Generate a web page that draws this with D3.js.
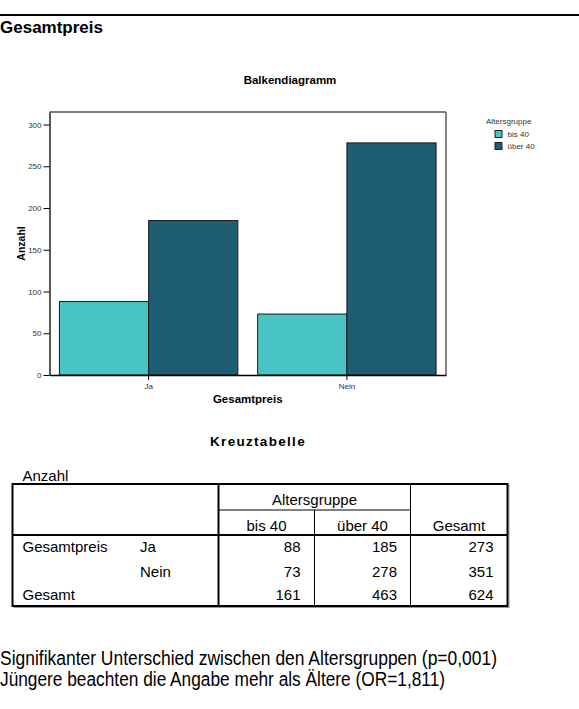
<!DOCTYPE html>
<html>
<head>
<meta charset="utf-8">
<script src="https://cdn.jsdelivr.net/npm/d3@7"></script>
<style>
  body { margin: 0; background: #fff; }
  svg { display: block; font-family: "Liberation Sans", Arial, sans-serif; }
  .axis path, .axis line { stroke: #000; }
  .axis text { fill: #333; font-size: 8px; }
</style>
</head>
<body>
<svg id="chart" width="579" height="709"></svg>
<script>
let categories = ["Ja", "Nein"];
let groups = ["bis 40", "über 40"];
let bis40 = [88, 73];
let ueber40 = [185, 278];
let rowTotals = [273, 351];
let colTotals = [161, 463, 624];
let yTicks = [0, 50, 100, 150, 200, 250, 300];
let colors = ["#48c3c6", "#1d5e74"];
let notes = [
  "Signifikanter Unterschied zwischen den Altersgruppen (p=0,001)",
  "Jüngere beachten die Angabe mehr als Ältere (OR=1,811)"
];
let noteWidths = [497, 445];

var svg = d3.select("#chart");

// heading rule + section title
svg.append("rect").attr("x", 0).attr("y", 14).attr("width", 579).attr("height", 2).attr("fill", "#000");
svg.append("text").attr("x", 0).attr("y", 33)
  .style("font-size", "17px").style("font-weight", "bold").text("Gesamtpreis");

// ---- bar chart ----
let margin = { top: 112, left: 49.5, right: 446, bottom: 375 };

let x0 = d3.scaleBand()
  .domain(categories)
  .range([margin.left, margin.right])
  .paddingInner(0.1)
  .paddingOuter(0.05);

let x1 = d3.scaleBand()
  .domain(groups)
  .range([0, x0.bandwidth()]);

let y = d3.scaleLinear()
  .domain([0, 315])
  .range([margin.bottom, margin.top]);

svg.append("text").attr("x", 290).attr("y", 84).attr("text-anchor", "middle")
  .style("font-size", "11.5px").style("font-weight", "bold").text("Balkendiagramm");

// frame (top + right)
svg.append("line").attr("x1", margin.left).attr("x2", margin.right)
  .attr("y1", margin.top).attr("y2", margin.top).attr("stroke", "#000").attr("stroke-width", 1.2);
svg.append("line").attr("x1", margin.right).attr("x2", margin.right)
  .attr("y1", margin.top).attr("y2", margin.bottom).attr("stroke", "#777").attr("stroke-width", 1.8);

let rows = categories.map(function(c, i) {
  return { cat: c, values: [bis40[i], ueber40[i]] };
});

let grp = svg.selectAll("g.cat")
  .data(rows)
  .enter().append("g")
  .attr("class", "cat")
  .attr("transform", function(d) { return "translate(" + x0(d.cat) + ",0)"; });

grp.selectAll("rect")
  .data(function(d) { return d.values.map(function(v, j) { return { g: groups[j], v: v, j: j }; }); })
  .enter().append("rect")
  .attr("x", function(d) { return x1(d.g); })
  .attr("y", function(d) { return y(d.v); })
  .attr("width", x1.bandwidth())
  .attr("height", function(d) { return y(0) - y(d.v); })
  .attr("fill", function(d) { return colors[d.j]; })
  .attr("stroke", "#1a1a1a")
  .attr("stroke-width", 1);

let yAxis = d3.axisLeft(y).tickValues(yTicks).tickSize(6).tickPadding(2).tickSizeOuter(0);
svg.append("g").attr("class", "axis")
  .attr("transform", "translate(" + margin.left + ",0)")
  .call(yAxis)
  .select(".domain").attr("stroke-width", 1.3);

let xAxis = d3.axisBottom(x0).tickSize(5).tickPadding(3).tickSizeOuter(0);
svg.append("g").attr("class", "axis")
  .attr("transform", "translate(0," + margin.bottom + ")")
  .call(xAxis)
  .select(".domain").attr("stroke-width", 1.3);

svg.append("text")
  .attr("transform", "translate(25," + (margin.top + margin.bottom) / 2 + ") rotate(-90)")
  .attr("text-anchor", "middle")
  .style("font-size", "10.5px").style("font-weight", "bold").text("Anzahl");

svg.append("text").attr("x", (margin.left + margin.right) / 2).attr("y", 403)
  .attr("text-anchor", "middle")
  .style("font-size", "11.5px").style("font-weight", "bold").text("Gesamtpreis");

// legend
let legend = svg.append("g").attr("transform", "translate(486,124)");
legend.append("text").style("font-size", "8px").style("fill", "#333").text("Altersgruppe");
let li = legend.selectAll("g.li").data(groups).enter().append("g")
  .attr("transform", function(d, i) { return "translate(9," + (6.5 + i * 12) + ")"; });
li.append("rect").attr("width", 7).attr("height", 7)
  .attr("fill", function(d, i) { return colors[i]; }).attr("stroke", "#222");
li.append("text").attr("x", 12.5).attr("y", 6.5).style("font-size", "8px").style("fill", "#333")
  .text(function(d) { return d; });

// ---- Kreuztabelle ----
svg.append("text").attr("x", 258).attr("y", 446).attr("text-anchor", "middle")
  .style("font-size", "13.5px").style("font-weight", "bold").style("letter-spacing", "1.3px")
  .text("Kreuztabelle");

let tfont = "15px";
let tb = { left: 12.5, right: 507.5, top: 484, bottom: 606, split: 218.5, c1: 314.5, c2: 410.5, h1: 510, h2: 535 };

svg.append("text").attr("x", 22.5).attr("y", 481).style("font-size", tfont).text("Anzahl");

function hline(x1, x2, yy, w) {
  svg.append("line").attr("x1", x1).attr("x2", x2).attr("y1", yy).attr("y2", yy)
    .attr("stroke", "#000").attr("stroke-width", w);
}
function vline(xx, y1, y2, w) {
  svg.append("line").attr("x1", xx).attr("x2", xx).attr("y1", y1).attr("y2", y2)
    .attr("stroke", "#000").attr("stroke-width", w);
}
// shadow then frame
svg.append("rect").attr("x", tb.left + 1.5).attr("y", tb.top + 1.5)
  .attr("width", tb.right - tb.left).attr("height", tb.bottom - tb.top)
  .attr("fill", "none").attr("stroke", "#999").attr("stroke-width", 1);
svg.append("rect").attr("x", tb.left).attr("y", tb.top)
  .attr("width", tb.right - tb.left).attr("height", tb.bottom - tb.top)
  .attr("fill", "#fff").attr("stroke", "#000").attr("stroke-width", 2);
vline(tb.split, tb.top, tb.bottom, 2);
hline(tb.split, tb.c2, tb.h1, 1);
vline(tb.c1, tb.h1, tb.bottom, 1);
vline(tb.c2, tb.top, tb.bottom, 1);
hline(tb.left, tb.right, tb.h2, 2);

let colCenters = [(tb.split + tb.c1) / 2, (tb.c1 + tb.c2) / 2, (tb.c2 + tb.right) / 2];
let colRights = [tb.c1 - 14, tb.c2 - 13.5, tb.right - 14];

svg.append("text").attr("x", (tb.split + tb.c2) / 2).attr("y", 505).attr("text-anchor", "middle")
  .style("font-size", tfont).text("Altersgruppe");
svg.selectAll("text.colhead").data(groups.concat(["Gesamt"])).enter().append("text")
  .attr("class", "colhead")
  .attr("x", function(d, i) { return colCenters[i]; }).attr("y", 531)
  .attr("text-anchor", "middle").style("font-size", tfont).text(function(d) { return d; });

let rowBase = [552, 576.5, 599.5];
let tableRows = [
  { a: "Gesamtpreis", b: categories[0], v: [bis40[0], ueber40[0], rowTotals[0]] },
  { a: "", b: categories[1], v: [bis40[1], ueber40[1], rowTotals[1]] },
  { a: "Gesamt", b: "", v: colTotals }
];
tableRows.forEach(function(r, i) {
  svg.append("text").attr("x", 22.5).attr("y", rowBase[i]).style("font-size", tfont).text(r.a);
  svg.append("text").attr("x", 140).attr("y", rowBase[i]).style("font-size", tfont).text(r.b);
  r.v.forEach(function(v, j) {
    svg.append("text").attr("x", colRights[j]).attr("y", rowBase[i]).attr("text-anchor", "end")
      .style("font-size", tfont).text(v);
  });
});

// notes below the table (narrow type in the original)
svg.selectAll("text.note").data(notes).enter().append("text")
  .attr("class", "note")
  .attr("x", 0).attr("y", function(d, i) { return 665 + i * 21; })
  .attr("textLength", function(d, i) { return noteWidths[i]; })
  .attr("lengthAdjust", "spacingAndGlyphs")
  .style("font-size", "19.5px").text(function(d) { return d; });
</script>
</body>
</html>
